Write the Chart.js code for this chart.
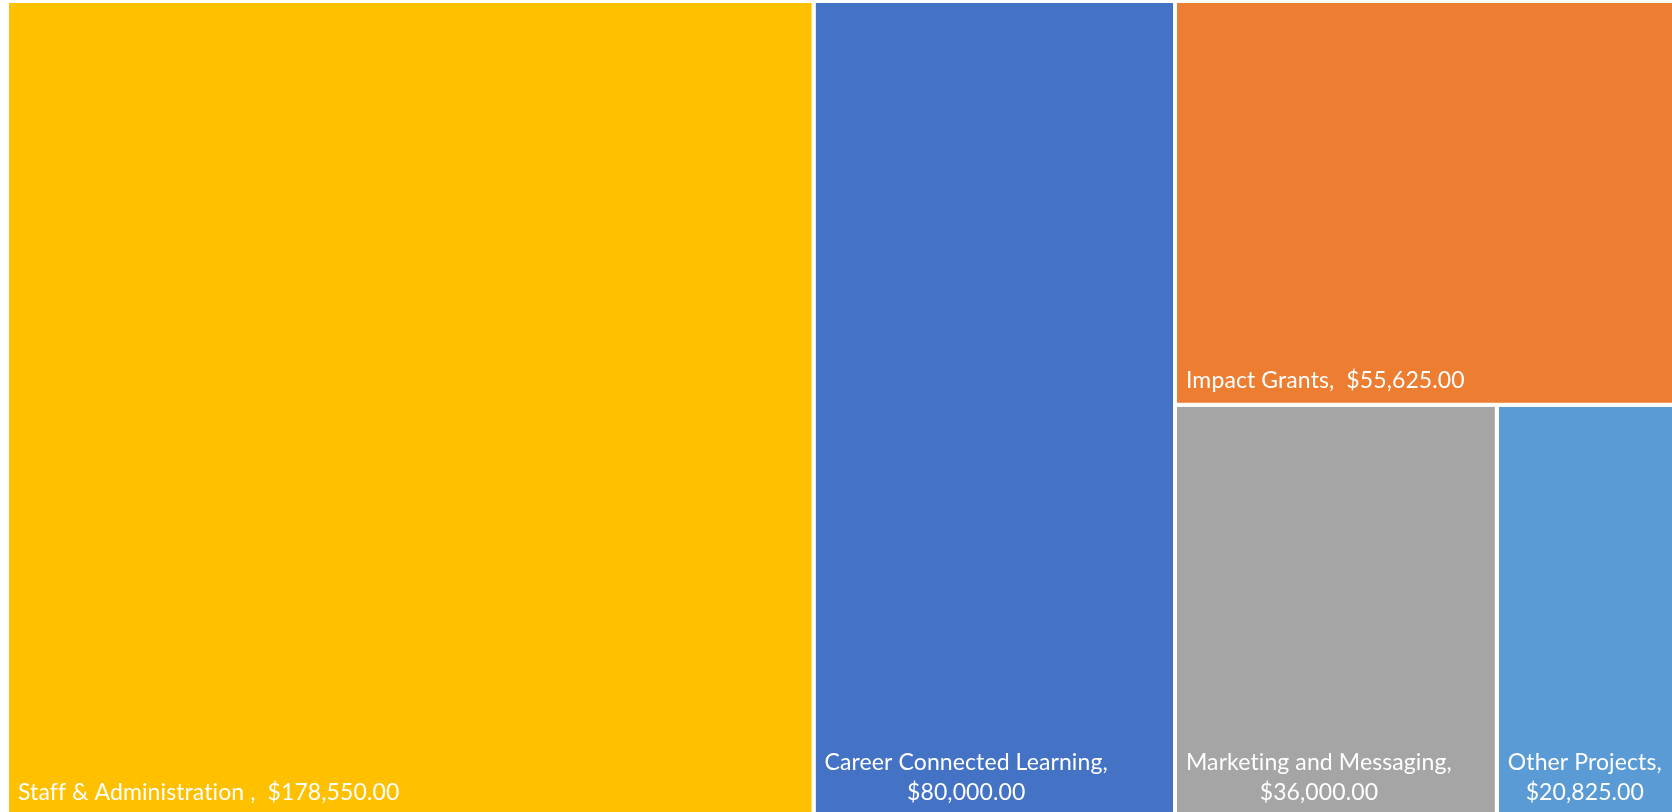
<!DOCTYPE html>
<html>
<head>
<meta charset="utf-8">
<script src="https://cdn.jsdelivr.net/npm/chart.js@4/dist/chart.umd.min.js"></script>
<style>
  html, body { margin: 0; padding: 0; background: #ffffff; overflow: hidden; width: 1672px; height: 812px; }
  #wrap { position: absolute; left: 7px; top: 1px; width: 1676px; height: 816px; }
</style>
</head>
<body>
<div id="wrap"><canvas id="c" width="1676" height="816"></canvas></div>
<script>
const categories = ['Staff & Administration ', 'Career Connected Learning', 'Impact Grants', 'Marketing and Messaging', 'Other Projects'];
const values = [178550, 80000, 55625, 36000, 20825];
const colors = ['#FFC000', '#4472C4', '#ED7D31', '#A5A5A5', '#5B9BD5'];

const canvas = document.getElementById('c');
const W = canvas.width, H = canvas.height;

// Strip layout: each item takes a strip across the shorter side of the remaining area
function layout(vals, X, Y, w, h) {
  let rem = vals.reduce((a, b) => a + b, 0);
  let x = X, y = Y;
  const out = [];
  vals.forEach((v, i) => {
    if (i === vals.length - 1) { out.push({x0: x, y0: y, x1: x + w, y1: y + h}); return; }
    const f = v / rem;
    if (w >= h) { const cw = w * f; out.push({x0: x, y0: y, x1: x + cw, y1: y + h}); x += cw; w -= cw; }
    else { const ch = h * f; out.push({x0: x, y0: y, x1: x + w, y1: y + ch}); y += ch; h -= ch; }
    rem -= v;
  });
  return out;
}
const rects = layout(values, 0, 0, W, H);

const fmt = v => '$' + v.toLocaleString('en-US', {minimumFractionDigits: 2, maximumFractionDigits: 2});

const datasets = rects.map((r, i) => ({
  label: categories[i],
  data: [{x: r.x0, y: r.y0}, {x: r.x1, y: r.y0}, {x: r.x1, y: r.y1}, {x: r.x0, y: r.y1}, {x: r.x0, y: r.y0}],
  backgroundColor: colors[i],
  borderColor: '#ffffff',
  borderWidth: 4,
  fill: 'shape',
  pointRadius: 0,
  tension: 0
}));

const PAD = 11, BOTTOM = 17, LINE = 30;
const labelPlugin = {
  id: 'rectLabels',
  afterDatasetsDraw(chart) {
    const {ctx, scales: {x, y}} = chart;
    ctx.save();
    ctx.font = '400 23px Lato';
    if ('letterSpacing' in ctx) ctx.letterSpacing = '0.1px';
    ctx.fillStyle = '#ffffff';
    ctx.textBaseline = 'alphabetic';
    ctx.textAlign = 'left';
    rects.forEach((r, i) => {
      const left = x.getPixelForValue(r.x0), right = x.getPixelForValue(r.x1);
      const bottom = y.getPixelForValue(r.y1);
      const name = categories[i] + ',';
      const val = fmt(values[i]);
      const one = name + '  ' + val;
      const avail = right - left - 2 * PAD;
      const lines = ctx.measureText(one).width <= avail ? [one] : [name, val];
      const bw = Math.max(...lines.map(l => ctx.measureText(l).width));
      lines.forEach((l, k) => {
        const w = ctx.measureText(l).width;
        ctx.fillText(l, left + PAD + (bw - w) / 2, bottom - BOTTOM - (lines.length - 1 - k) * LINE);
      });
    });
    ctx.restore();
  }
};

new Chart(canvas, {
  type: 'line',
  data: {datasets},
  options: {
    responsive: false,
    animation: false,
    layout: {padding: 0},
    scales: {
      x: {type: 'linear', min: 0, max: W, display: false},
      y: {type: 'linear', min: 0, max: H, reverse: true, display: false}
    },
    plugins: {legend: {display: false}, tooltip: {enabled: false}}
  },
  plugins: [labelPlugin]
});
</script>
</body>
</html>
